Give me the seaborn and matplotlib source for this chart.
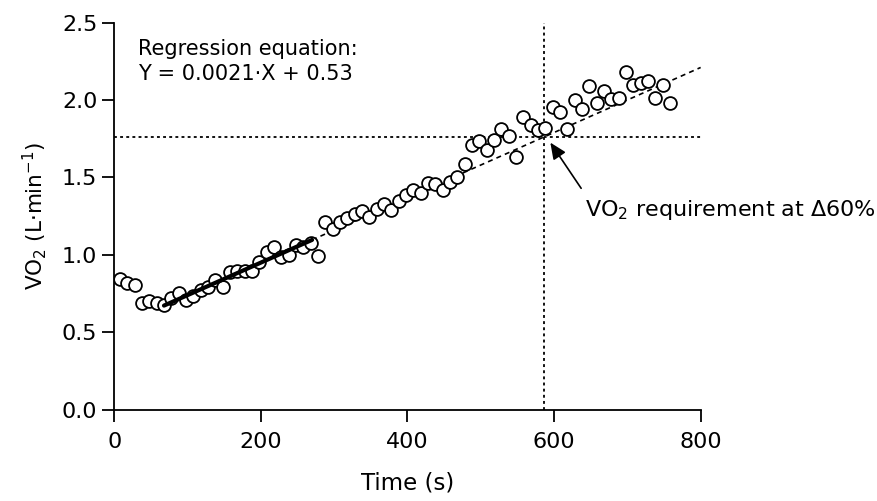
import matplotlib
matplotlib.use("Agg")
import matplotlib.pyplot as plt
import seaborn as sns
import pandas as pd

# VO2 samples (time in s, VO2 in L/min)
time_s = [8, 18, 28, 38, 48, 58, 68, 78, 88, 98,
          108, 118, 128, 138, 148, 158, 168, 178, 188, 198,
          208, 218, 228, 238, 248, 258, 268, 278, 288, 298,
          308, 318, 328, 338, 348, 358, 368, 378, 388, 398,
          408, 418, 428, 438, 448, 458, 468, 478, 488, 498,
          508, 518, 528, 538, 548, 558, 568, 578, 588, 598,
          608, 618, 628, 638, 648, 658, 668, 678, 688, 698,
          708, 718, 728, 738, 748, 758]
vo2 = [0.845, 0.817, 0.803, 0.687, 0.704, 0.692, 0.679, 0.722, 0.752, 0.71,
       0.733, 0.771, 0.795, 0.84, 0.79, 0.891, 0.898, 0.897, 0.897, 0.956,
       1.018, 1.053, 0.985, 1.0, 1.067, 1.048, 1.075, 0.99, 1.212, 1.165,
       1.214, 1.236, 1.264, 1.283, 1.243, 1.294, 1.328, 1.29, 1.35, 1.386,
       1.42, 1.40, 1.465, 1.46, 1.418, 1.47, 1.50, 1.588, 1.708, 1.734,
       1.68, 1.745, 1.816, 1.767, 1.634, 1.891, 1.838, 1.806, 1.82, 1.955,
       1.923, 1.81, 2.0, 1.945, 2.09, 1.98, 2.06, 2.006, 2.01, 2.18,
       2.1, 2.11, 2.12, 2.01, 2.10, 1.98]

# regression Y = 0.0021*X + 0.53, fitted on 68-270 s, extrapolated to 800 s
slope = 0.0021
intercept = 0.53
fit_range = [68, 270]
extrap_range = [270, 800]

# delta 60% point
d60_time = 587
d60_vo2 = 1.76

x_ticks = [0, 200, 400, 600, 800]
y_ticks = [0.0, 0.5, 1.0, 1.5, 2.0, 2.5]

sns.set_theme(style="ticks")
plt.rcParams['font.family'] = ['DejaVu Sans']
plt.rcParams['mathtext.default'] = 'regular'
plt.rcParams['text.color'] = 'black'
plt.rcParams['axes.labelcolor'] = 'black'
plt.rcParams['xtick.color'] = 'black'
plt.rcParams['ytick.color'] = 'black'

df = pd.DataFrame({'time': time_s, 'vo2': vo2})
fit_df = pd.DataFrame({'time': fit_range, 'vo2': [slope * t + intercept for t in fit_range]})
ext_df = pd.DataFrame({'time': extrap_range, 'vo2': [slope * t + intercept for t in extrap_range]})

fig = plt.figure(figsize=(8.78, 5.01), dpi=100)
ax = fig.add_axes([0.130, 0.182, 0.668, 0.773])

# reference lines
ax.axhline(d60_vo2, color='black', lw=1.3, ls=(0, (1.6, 1.8)))
ax.axvline(d60_time, color='black', lw=1.3, ls=(0, (1.6, 1.8)))

sns.lineplot(data=ext_df, x='time', y='vo2', ax=ax, color='black', lw=1.2,
             linestyle=(0, (3, 2.5)))
sns.scatterplot(data=df, x='time', y='vo2', ax=ax, s=85, facecolor='white',
                edgecolor='black', linewidth=1.3, zorder=3)
sns.lineplot(data=fit_df, x='time', y='vo2', ax=ax, color='black', lw=3, zorder=4)

ax.set_xlim(0, 800)
ax.set_ylim(0, 2.5)
ax.set_xticks(x_ticks)
ax.set_yticks(y_ticks)
ax.set_xticklabels([str(v) for v in x_ticks])
ax.set_yticklabels([f"{v:.1f}" for v in y_ticks])
ax.tick_params(direction='out', length=8.5, width=1.3, labelsize=16, colors='black')
ax.tick_params(axis='x', pad=7.5)
ax.tick_params(axis='y', pad=3.6)
for side in ['left', 'bottom']:
    ax.spines[side].set_linewidth(1.3)
    ax.spines[side].set_color('black')
sns.despine(ax=ax)

ax.set_xlabel('Time (s)', fontsize=16.5)
ax.xaxis.set_label_coords(0.5, -0.16)
ax.set_ylabel('VO$_2$ (L·min$^{-1}$)', fontsize=15.5, labelpad=9)

ax.text(33, 2.33, 'Regression equation:', fontsize=15, va='center')
ax.text(33, 2.17, 'Y = 0.0021·X + 0.53', fontsize=15, va='center')

ax.text(642, 1.29, 'VO$_2$ requirement at Δ60%', fontsize=16, va='center',
        ha='left', clip_on=False)
ax.annotate('', xy=(595, 1.725), xytext=(637, 1.43), annotation_clip=False,
            arrowprops=dict(arrowstyle='-|>,head_length=0.9,head_width=0.4',
                            color='black', lw=1.2, mutation_scale=11,
                            shrinkA=0, shrinkB=0))

fig.savefig('out.png', dpi=100)
